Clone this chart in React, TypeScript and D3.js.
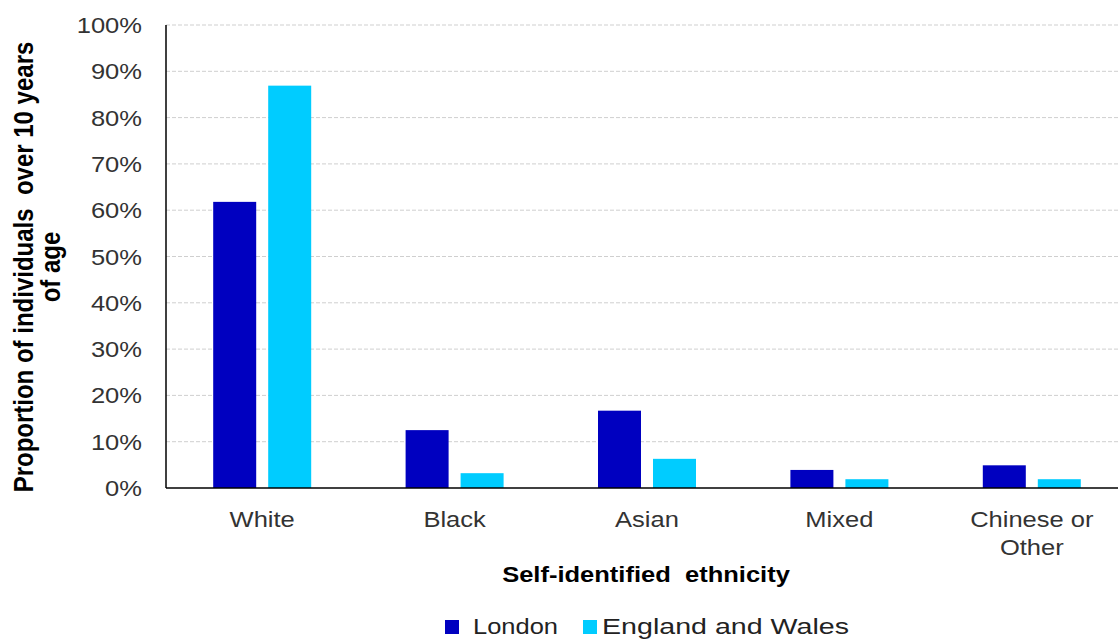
import React from "react";
import * as d3 from "d3";

const categories: string[][] = [["White"], ["Black"], ["Asian"], ["Mixed"], ["Chinese or", "Other"]];
const seriesNames = ["London", "England and Wales"];
const london = [61.8, 12.5, 16.7, 3.9, 4.9];
const englandWales = [86.9, 3.2, 6.3, 1.9, 1.9];
const yTicks = [0, 10, 20, 30, 40, 50, 60, 70, 80, 90, 100];
const colors = ["#0000C0", "#00CCFF"];

const SX = 1.16;

function SText(props: {
  x: number;
  y: number;
  anchor?: string;
  size: number;
  bold?: boolean;
  fill?: string;
  children: React.ReactNode;
}) {
  const { x, y, anchor = "middle", size, bold, fill = "#222", children } = props;
  return (
    <g transform={`translate(${x},${y}) scale(${SX},1)`}>
      <text
        x={0}
        y={0}
        textAnchor={anchor}
        fontSize={size}
        fontWeight={bold ? "bold" : "normal"}
        fill={fill}
        style={{ whiteSpace: "pre" }}
      >
        {children}
      </text>
    </g>
  );
}

export default function App() {
  const W = 1118, H = 640;
  const left = 166, right = 1128, top = 25, bottom = 488;
  const keys = categories.map((c) => c.join(" "));
  const x = d3.scaleBand<string>().domain(keys).range([left, right]).paddingInner(0).paddingOuter(0);
  const y = d3.scaleLinear().domain([0, 100]).range([bottom, top]);
  const barW = 43, gap = 12;
  const series = [london, englandWales];
  const font = "'Liberation Sans', Arial, sans-serif";
  return (
    <svg width={W} height={H} style={{ position: "absolute", left: 0, top: 0, background: "#fff" }} fontFamily={font}>
      {yTicks.map((t) => (
        <g key={t}>
          {t > 0 && (
            <line x1={left} x2={W} y1={y(t)} y2={y(t)} stroke="#cfcfcf" strokeWidth={1} strokeDasharray="4,2" />
          )}
          <SText x={142} y={y(t) + 8} anchor="end" size={22} fill="#333">
            {t}%
          </SText>
        </g>
      ))}
      {keys.map((k, i) =>
        series.map((s, j) => {
          const cx = x(k)! + x.bandwidth() / 2;
          const bx = j === 0 ? cx - gap / 2 - barW : cx + gap / 2;
          return <rect key={k + j} x={bx} y={y(s[i])} width={barW} height={bottom - y(s[i])} fill={colors[j]} />;
        })
      )}
      <line x1={left} x2={left} y1={top} y2={bottom} stroke="#000" strokeWidth={1.5} />
      <line x1={left} x2={W} y1={bottom} y2={bottom} stroke="#000" strokeWidth={1.5} />
      {categories.map((c, i) =>
        c.map((line, li) => (
          <SText key={i + "-" + li} x={x(keys[i])! + x.bandwidth() / 2} y={527 + li * 28} size={22} fill="#333">
            {line}
          </SText>
        ))
      )}
      <SText x={646} y={582} size={22} bold fill="#000">
        {"Self-identified  ethnicity"}
      </SText>
      <g transform={`translate(33,267) scale(${SX},1) rotate(-90)`}>
        <text textAnchor="middle" fontSize={24} fontWeight="bold" fill="#000" style={{ whiteSpace: "pre" }}>
          <tspan x={0} y={0}>{"Proportion of individuals  over 10 years"}</tspan>
          <tspan x={0} y={23.3}>of age</tspan>
        </text>
      </g>
      {seriesNames.map((n, j) => {
        const lx = j === 0 ? 445 : 583;
        const len = j === 0 ? 85 : 247;
        return (
          <g key={n}>
            <rect x={lx} y={620} width={14} height={14} fill={colors[j]} />
            <text
              x={j === 0 ? 473 : 602}
              y={634}
              fontSize={22}
              fill="#222"
              textLength={len}
              lengthAdjust="spacingAndGlyphs"
            >
              {n}
            </text>
          </g>
        );
      })}
    </svg>
  );
}
